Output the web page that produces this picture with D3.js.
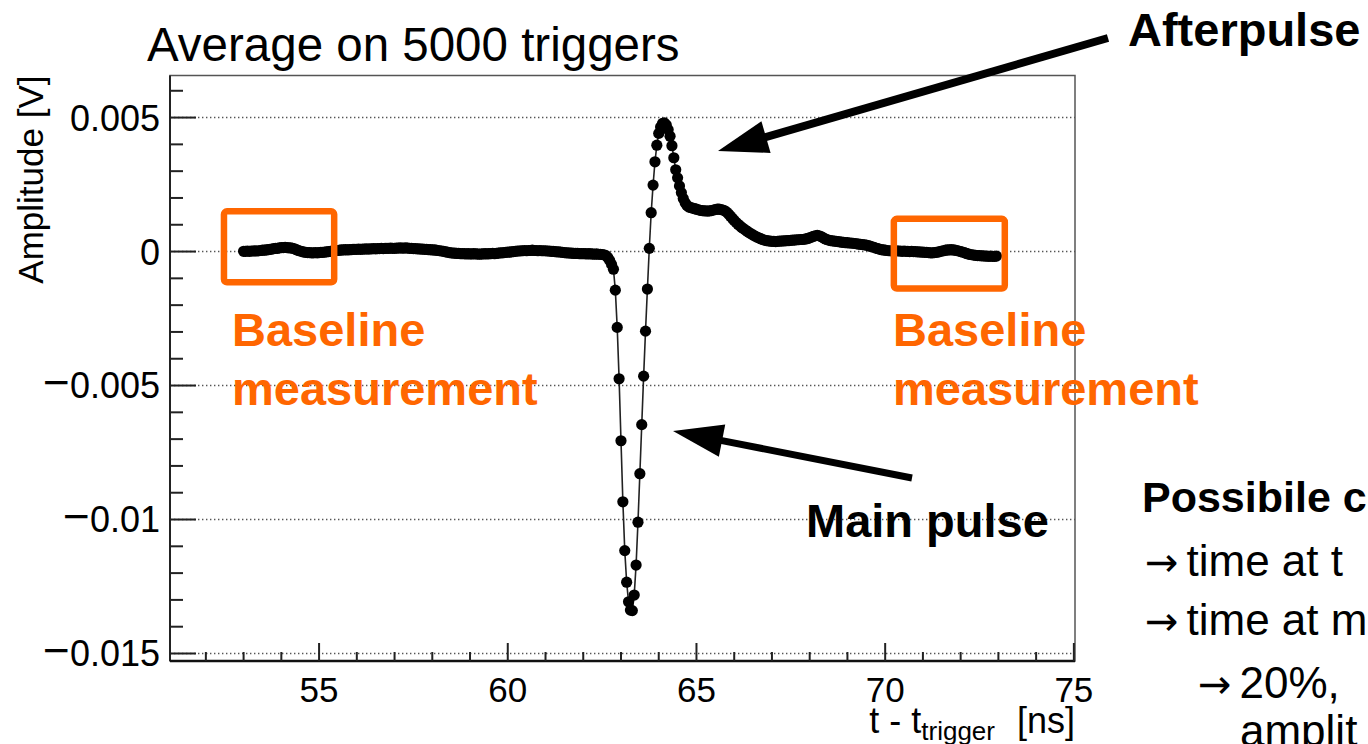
<!DOCTYPE html>
<html>
<head>
<meta charset="utf-8">
<script src="https://cdn.jsdelivr.net/npm/d3@7/dist/d3.min.js"></script>
<style>
    html, body { margin: 0; padding: 0; background: #fff; overflow: hidden; }
    svg { display: block; font-family: 'Liberation Sans', Arial, Helvetica, sans-serif; }
</style>
</head>
<body>
<div id="chart"></div>
<script>
/*global d3*/
(function () {
    'use strict';

    // averaged waveform, one sample every 0.05 ns starting at 53 ns (values in mV)
    var tStart = 53.0,
        tStep = 0.05,
        amplitudeMV = [
            0.01, 0.01, 0.02, 0.01, 0.02, 0.02, 0.03, 0.02, 0.03, 0.04, 0.05, 0.05, 0.06, 0.07, 0.08, 0.09, 0.11, 0.12, 0.12, 0.14,
            0.15, 0.15, 0.16, 0.15, 0.14, 0.14, 0.12, 0.10, 0.07, 0.04, 0.02, 0.00, -0.02, -0.03, -0.04, -0.04, -0.05, -0.05, -0.04, -0.05,
            -0.04, -0.03, -0.03, -0.02, -0.01, 0.00, 0.01, 0.02, 0.03, 0.04, 0.04, 0.05, 0.06, 0.06, 0.07, 0.06, 0.07, 0.07, 0.08, 0.08,
            0.08, 0.09, 0.08, 0.09, 0.09, 0.10, 0.09, 0.10, 0.10, 0.11, 0.10, 0.11, 0.11, 0.12, 0.11, 0.12, 0.12, 0.12, 0.13, 0.12,
            0.12, 0.13, 0.13, 0.14, 0.13, 0.13, 0.14, 0.13, 0.12, 0.12, 0.11, 0.11, 0.10, 0.10, 0.09, 0.09, 0.08, 0.08, 0.07, 0.07,
            0.06, 0.06, 0.05, 0.04, 0.03, 0.02, 0.01, -0.01, -0.02, -0.04, -0.05, -0.06, -0.06, -0.07, -0.07, -0.08, -0.08, -0.08, -0.09, -0.08,
            -0.09, -0.09, -0.08, -0.09, -0.09, -0.10, -0.09, -0.09, -0.08, -0.09, -0.08, -0.08, -0.07, -0.08, -0.07, -0.06, -0.05, -0.05, -0.04, -0.03,
            -0.02, -0.02, -0.01, 0.00, 0.01, 0.02, 0.02, 0.03, 0.03, 0.04, 0.03, 0.04, 0.04, 0.05, 0.04, 0.04, 0.03, 0.04, 0.03, 0.03,
            0.03, 0.02, 0.02, 0.01, 0.01, 0.00, -0.01, -0.01, -0.02, -0.03, -0.04, -0.05, -0.05, -0.06, -0.06, -0.07, -0.07, -0.07, -0.08, -0.08,
            -0.08, -0.08, -0.09, -0.08, -0.09, -0.09, -0.10, -0.09, -0.10, -0.10, -0.11, -0.12, -0.15, -0.22, -0.33, -0.48, -0.66, -1.44, -2.83, -4.75,
            -7.06, -9.34, -11.16, -12.34, -13.07, -13.38, -13.40, -12.82, -11.70, -10.10, -8.29, -6.46, -4.65, -2.97, -1.40, 0.12, 1.45, 2.48, 3.35, 3.97,
            4.41, 4.65, 4.78, 4.80, 4.72, 4.55, 4.30, 3.95, 3.50, 3.05, 2.75, 2.45, 2.20, 1.98, 1.82, 1.72, 1.66, 1.64, 1.62, 1.60,
            1.58, 1.56, 1.54, 1.53, 1.52, 1.52, 1.51, 1.52, 1.53, 1.55, 1.57, 1.58, 1.58, 1.57, 1.55, 1.52, 1.47, 1.40, 1.32, 1.24,
            1.16, 1.09, 1.02, 0.96, 0.90, 0.85, 0.80, 0.75, 0.70, 0.66, 0.62, 0.58, 0.54, 0.51, 0.48, 0.45, 0.43, 0.41, 0.40, 0.39,
            0.38, 0.38, 0.37, 0.38, 0.39, 0.39, 0.40, 0.40, 0.41, 0.41, 0.42, 0.43, 0.43, 0.44, 0.44, 0.45, 0.45, 0.46, 0.47, 0.49,
            0.51, 0.54, 0.57, 0.59, 0.60, 0.59, 0.56, 0.52, 0.48, 0.45, 0.43, 0.41, 0.40, 0.39, 0.38, 0.37, 0.36, 0.35, 0.34, 0.33,
            0.33, 0.32, 0.32, 0.31, 0.30, 0.29, 0.28, 0.27, 0.26, 0.25, 0.24, 0.22, 0.20, 0.18, 0.16, 0.13, 0.11, 0.09, 0.07, 0.06,
            0.05, 0.04, 0.03, 0.03, 0.02, 0.02, 0.03, 0.02, 0.02, 0.01, 0.02, 0.01, 0.01, 0.00, 0.01, 0.00, 0.00, -0.01, -0.01, -0.02,
            -0.02, -0.03, -0.03, -0.04, -0.05, -0.05, -0.04, -0.03, -0.02, 0.00, 0.02, 0.03, 0.05, 0.06, 0.06, 0.07, 0.06, 0.05, 0.04, 0.02,
            0.00, -0.02, -0.04, -0.07, -0.09, -0.11, -0.12, -0.13, -0.14, -0.15, -0.15, -0.16, -0.16, -0.17, -0.17, -0.18, -0.17, -0.18, -0.18, -0.17
        ],

        xMajorTicks = [55, 60, 65, 70, 75],
        yMajorTicks = [0.005, 0, -0.005, -0.01, -0.015],
        yTickLabels = ['0.005', '0', '\u22120.005', '\u22120.01', '\u22120.015'],

        // windows used for the baseline: [t from, t to, V top, V bottom]
        baselineWindows = [[52.48, 55.4, 0.0015, -0.00115], [70.23, 73.17, 0.00122, -0.00138]],

        // the side notes run off the slide edge, only the visible part is kept
        rightNotes = ['time at t', 'time at m', '20%,'],

        width = 1368,
        height = 744,
        frame = {left: 170, right: 1075, top: 75.5, bottom: 661},
        orange = '#ff6600',

        svg = d3.select('#chart')
            .append('svg')
            .attr('width', width)
            .attr('height', height),

        x = d3.scaleLinear().domain([51.05, 75.03]).range([frame.left, frame.right]),
        y = d3.scaleLinear().domain([-0.01528, 0.00657]).range([frame.bottom, frame.top]),

        points = amplitudeMV.map(function (v, i) {
            return {t: tStart + i * tStep, v: v / 1000};
        }),

        yMinorTicks = d3.range(-15, 7).map(function (d) { return d / 1000; })
            .filter(function (d) { return Math.abs(Math.round(d * 1000)) % 5 !== 0; }),
        xMinorTicks = d3.range(52, 75).filter(function (d) { return d % 5 !== 0; });

    // dotted grid on the y major ticks
    svg.append('g')
        .selectAll('line')
        .data(yMajorTicks)
        .enter()
        .append('line')
        .attr('x1', frame.left)
        .attr('x2', frame.right)
        .attr('y1', function (d) { return y(d); })
        .attr('y2', function (d) { return y(d); })
        .style('stroke', '#555')
        .style('stroke-width', '1.4px')
        .style('stroke-dasharray', '1.4,2.6');

    // frame
    svg.append('rect')
        .attr('x', frame.left)
        .attr('y', frame.top)
        .attr('width', frame.right - frame.left)
        .attr('height', frame.bottom - frame.top)
        .style('fill', 'none')
        .style('stroke', '#555')
        .style('stroke-width', '1.5px');

    // y axis, ticks pointing inside like ROOT
    var yAxis = svg.append('g').attr('transform', 'translate(' + frame.left + ',0)');
    yAxis.append('line')
        .attr('y1', frame.top).attr('y2', frame.bottom)
        .style('stroke', '#222').style('stroke-width', '2px');
    yAxis.selectAll('.major')
        .data(yMajorTicks)
        .enter()
        .append('line')
        .attr('class', 'major')
        .attr('x1', 0).attr('x2', 26)
        .attr('y1', function (d) { return y(d); })
        .attr('y2', function (d) { return y(d); })
        .style('stroke', '#222').style('stroke-width', '2px');
    yAxis.selectAll('.minor')
        .data(yMinorTicks)
        .enter()
        .append('line')
        .attr('class', 'minor')
        .attr('x1', 0).attr('x2', 13)
        .attr('y1', function (d) { return y(d); })
        .attr('y2', function (d) { return y(d); })
        .style('stroke', '#222').style('stroke-width', '2px');
    yAxis.selectAll('text')
        .data(yMajorTicks)
        .enter()
        .append('text')
        .attr('x', -10)
        .attr('y', function (d) { return y(d); })
        .attr('dy', '0.36em')
        .attr('text-anchor', 'end')
        .style('font-size', '36px')
        .each(function (d, i) {
            var label = yTickLabels[i],
                t = d3.select(this);
            // ROOT draws a long minus sign
            if (label.charAt(0) === '\u2212') {
                t.append('tspan').style('font-size', '46px').text('\u2212');
                label = label.slice(1);
            }
            t.append('tspan').text(label);
        });

    // x axis
    var xAxis = svg.append('g').attr('transform', 'translate(0,' + frame.bottom + ')');
    xAxis.append('line')
        .attr('x1', frame.left).attr('x2', frame.right)
        .style('stroke', '#111').style('stroke-width', '2.5px');
    xAxis.selectAll('.major')
        .data(xMajorTicks)
        .enter()
        .append('line')
        .attr('class', 'major')
        .attr('x1', function (d) { return x(d); })
        .attr('x2', function (d) { return x(d); })
        .attr('y1', 0).attr('y2', -18)
        .style('stroke', '#222').style('stroke-width', '2px');
    xAxis.selectAll('.minor')
        .data(xMinorTicks)
        .enter()
        .append('line')
        .attr('class', 'minor')
        .attr('x1', function (d) { return x(d); })
        .attr('x2', function (d) { return x(d); })
        .attr('y1', 0).attr('y2', -9)
        .style('stroke', '#222').style('stroke-width', '2px');
    xAxis.selectAll('text')
        .data(xMajorTicks)
        .enter()
        .append('text')
        .attr('x', function (d) { return x(d); })
        .attr('y', 41)
        .attr('text-anchor', 'middle')
        .style('font-size', '35px')
        .text(function (d) { return d; });

    // axis titles
    var xTitle = svg.append('text')
        .attr('x', frame.right)
        .attr('y', 733)
        .attr('text-anchor', 'end')
        .style('font-size', '36px');
    xTitle.append('tspan').text('t - t');
    xTitle.append('tspan').attr('dy', 7).style('font-size', '26px').text('trigger');
    xTitle.append('tspan').attr('dy', -7).attr('dx', 22).text('[ns]');

    svg.append('text')
        .attr('transform', 'translate(43,' + frame.top + ') rotate(-90)')
        .attr('text-anchor', 'end')
        .style('font-size', '35px')
        .text('Amplitude [V]');

    svg.append('text')
        .attr('x', 147)
        .attr('y', 61)
        .style('font-size', '47.5px')
        .text('Average on 5000 triggers');

    // waveform: thin line plus full markers
    svg.append('path')
        .datum(points)
        .attr('d', d3.line()
            .x(function (d) { return x(d.t); })
            .y(function (d) { return y(d.v); }))
        .style('fill', 'none')
        .style('stroke', '#222')
        .style('stroke-width', '1.6px');

    svg.append('g')
        .selectAll('circle')
        .data(points)
        .enter()
        .append('circle')
        .attr('cx', function (d) { return x(d.t); })
        .attr('cy', function (d) { return y(d.v); })
        .attr('r', 5.6)
        .style('fill', '#000');

    // baseline windows
    svg.append('g')
        .selectAll('rect')
        .data(baselineWindows)
        .enter()
        .append('rect')
        .attr('x', function (d) { return x(d[0]); })
        .attr('y', function (d) { return y(d[2]); })
        .attr('width', function (d) { return x(d[1]) - x(d[0]); })
        .attr('height', function (d) { return y(d[3]) - y(d[2]); })
        .attr('rx', 3)
        .style('fill', 'none')
        .style('stroke', orange)
        .style('stroke-width', '6.5px');

    [232, 893].forEach(function (left) {
        svg.append('text')
            .attr('x', left).attr('y', 346)
            .style('font-size', '47px').style('font-weight', 'bold').style('fill', orange)
            .text('Baseline');
        svg.append('text')
            .attr('x', left).attr('y', 405)
            .style('font-size', '47px').style('font-weight', 'bold').style('fill', orange)
            .text('measurement');
    });

    // arrows
    function arrow(x1, y1, x2, y2, w) {
        var dx = x2 - x1, dy = y2 - y1,
            len = Math.sqrt(dx * dx + dy * dy),
            ux = dx / len, uy = dy / len,
            bx = x2 - ux * 50, by = y2 - uy * 50,
            px = -uy * 16.5, py = ux * 16.5;
        svg.append('line')
            .attr('x1', x1).attr('y1', y1)
            .attr('x2', bx + ux * 4).attr('y2', by + uy * 4)
            .style('stroke', '#000')
            .style('stroke-width', w + 'px');
        svg.append('path')
            .attr('d', 'M' + x2 + ',' + y2 + 'L' + (bx + px) + ',' + (by + py) +
                'L' + (bx - px) + ',' + (by - py) + 'Z')
            .style('fill', '#000');
    }
    arrow(1108, 38, 718, 151, 8);
    arrow(912, 478, 673, 431, 7);

    svg.append('text')
        .attr('x', 1128).attr('y', 46)
        .style('font-size', '47px').style('font-weight', 'bold')
        .text('Afterpulse');
    svg.append('text')
        .attr('x', 806).attr('y', 537)
        .style('font-size', '47px').style('font-weight', 'bold')
        .text('Main pulse');

    // notes on the right
    svg.append('text')
        .attr('x', 1142).attr('y', 512)
        .style('font-size', '43px').style('font-weight', 'bold')
        .text('Possibile c');
    svg.selectAll('.note')
        .data(rightNotes)
        .enter()
        .append('text')
        .attr('class', 'note')
        .attr('x', function (d, i) { return [1145, 1145, 1198][i]; })
        .attr('y', function (d, i) { return [576, 635, 698][i]; })
        .style('font-size', '44px')
        .each(function (d) {
            var t = d3.select(this);
            t.append('tspan').style('font-family', 'DejaVu Sans').style('font-size', '40px').text('\u2192');
            t.append('tspan').attr('dx', 8).text(d);
        });
    svg.append('text')
        .attr('x', 1240).attr('y', 746)
        .style('font-size', '44px')
        .text('amplit');
}());
</script>
</body>
</html>
